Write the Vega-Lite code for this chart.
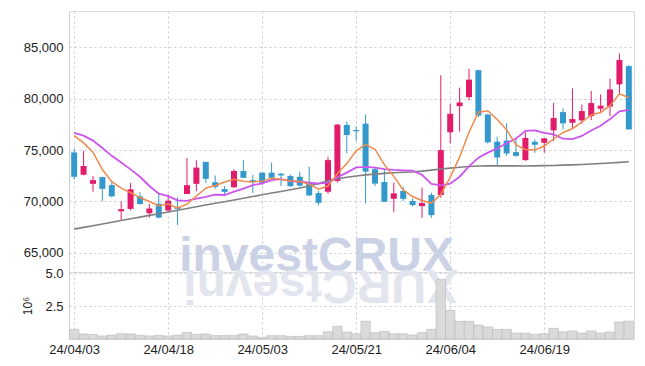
{
  "$schema": "https://vega.github.io/schema/vega-lite/v6.json",
  "background": "white",
  "padding": {"left": 21, "top": 10, "right": 9, "bottom": 0},
  "spacing": 0,
  "bounds": "flush",
  "config": {
    "view": {"stroke": "#dcdcdc"},
    "font": "Liberation Sans",
    "axis": {
      "labelFont": "Liberation Sans",
      "labelFontSize": 13,
      "labelColor": "#222",
      "gridColor": "#c6c9dc",
      "gridDash": [2, 3],
      "ticks": false,
      "domainColor": "#cccccc",
      "labelPadding": 6,
      "titleFont": "Liberation Sans",
      "titleFontWeight": "normal",
      "titleFontSize": 12,
      "titleColor": "#222"
    }
  },
  "data": {"values": [
    {"d":"24/04/03","o":74770,"h":75100,"l":72140,"c":72400,"v":730000,"m5":76400,"m10":76680,"m60":67300},
    {"d":"24/04/04","o":72600,"h":74930,"l":72530,"c":73450,"v":380000,"m5":75700,"m10":76410,"m60":67470},
    {"d":"24/04/05","o":71710,"h":72470,"l":70950,"c":72070,"v":350000,"m5":74800,"m10":75920,"m60":67630},
    {"d":"24/04/08","o":72370,"h":72400,"l":70000,"c":71220,"v":230000,"m5":73100,"m10":75200,"m60":67800},
    {"d":"24/04/09","o":71580,"h":71970,"l":70390,"c":70490,"v":300000,"m5":71926,"m10":74440,"m60":67970},
    {"d":"24/04/11","o":69040,"h":70000,"l":68090,"c":69240,"v":400000,"m5":71294,"m10":73780,"m60":68140},
    {"d":"24/04/12","o":69270,"h":71800,"l":69140,"c":71180,"v":380000,"m5":70840,"m10":73120,"m60":68300},
    {"d":"24/04/15","o":70490,"h":70890,"l":69670,"c":69740,"v":280000,"m5":70374,"m10":72400,"m60":68470},
    {"d":"24/04/16","o":68850,"h":69740,"l":68420,"c":69310,"v":230000,"m5":69992,"m10":71500,"m60":68640},
    {"d":"24/04/17","o":69770,"h":70820,"l":68350,"c":68420,"v":280000,"m5":69578,"m10":70752,"m60":68800},
    {"d":"24/04/18","o":69110,"h":70660,"l":69010,"c":70070,"v":230000,"m5":69744,"m10":70519,"m60":68970},
    {"d":"24/04/19","o":69440,"h":70390,"l":67700,"c":69270,"v":300000,"m5":69362,"m10":70101,"m60":69140},
    {"d":"24/04/22","o":70720,"h":74220,"l":70720,"c":71580,"v":500000,"m5":69730,"m10":70052,"m60":69300},
    {"d":"24/04/23","o":71710,"h":74010,"l":70990,"c":73290,"v":350000,"m5":70526,"m10":70259,"m60":69470},
    {"d":"24/04/24","o":73850,"h":73850,"l":71810,"c":72200,"v":380000,"m5":71282,"m10":70430,"m60":69640},
    {"d":"24/04/25","o":71870,"h":72530,"l":71220,"c":71410,"v":260000,"m5":71550,"m10":70647,"m60":69810},
    {"d":"24/04/26","o":71200,"h":71500,"l":70600,"c":70930,"v":260000,"m5":71882,"m10":70622,"m60":69970},
    {"d":"24/04/29","o":71380,"h":73130,"l":71320,"c":72960,"v":280000,"m5":72158,"m10":70944,"m60":70140},
    {"d":"24/04/30","o":72960,"h":74010,"l":72240,"c":72300,"v":380000,"m5":71960,"m10":71243,"m60":70310},
    {"d":"24/05/02","o":72070,"h":72570,"l":70820,"c":71870,"v":230000,"m5":71894,"m10":71588,"m60":70470},
    {"d":"24/05/03","o":72800,"h":72800,"l":71580,"c":71810,"v":130000,"m5":71974,"m10":71762,"m60":70640},
    {"d":"24/05/07","o":72800,"h":73780,"l":72240,"c":72300,"v":250000,"m5":72248,"m10":72065,"m60":70810},
    {"d":"24/05/08","o":72700,"h":72760,"l":71480,"c":72530,"v":250000,"m5":72162,"m10":72160,"m60":70970},
    {"d":"24/05/09","o":72470,"h":72630,"l":71410,"c":71480,"v":200000,"m5":71998,"m10":71979,"m60":71140},
    {"d":"24/05/10","o":72400,"h":72890,"l":71450,"c":71540,"v":200000,"m5":71932,"m10":71913,"m60":71310},
    {"d":"24/05/13","o":71830,"h":73370,"l":70520,"c":70580,"v":250000,"m5":71686,"m10":71830,"m60":71500},
    {"d":"24/05/14","o":70810,"h":71010,"l":69600,"c":69860,"v":250000,"m5":71198,"m10":71723,"m60":71750},
    {"d":"24/05/16","o":70940,"h":74340,"l":70750,"c":74020,"v":550000,"m5":71496,"m10":71829,"m60":72000},
    {"d":"24/05/17","o":71990,"h":77550,"l":71830,"c":77480,"v":960000,"m5":72696,"m10":72347,"m60":72200},
    {"d":"24/05/20","o":77450,"h":77780,"l":74670,"c":76470,"v":530000,"m5":73682,"m10":72807,"m60":72350},
    {"d":"24/05/21","o":76960,"h":77290,"l":75910,"c":76830,"v":400000,"m5":74932,"m10":73309,"m60":72480},
    {"d":"24/05/22","o":77580,"h":78460,"l":69800,"c":72900,"v":1340000,"m5":75540,"m10":73369,"m60":72580},
    {"d":"24/05/23","o":73130,"h":73360,"l":71500,"c":71730,"v":480000,"m5":75082,"m10":73289,"m60":72660},
    {"d":"24/05/24","o":71890,"h":73130,"l":69960,"c":69960,"v":580000,"m5":73578,"m10":73137,"m60":72730},
    {"d":"24/05/27","o":70250,"h":71830,"l":68950,"c":70780,"v":400000,"m5":72440,"m10":73061,"m60":72790},
    {"d":"24/05/28","o":71010,"h":71430,"l":70030,"c":70250,"v":400000,"m5":71124,"m10":73028,"m60":72840},
    {"d":"24/05/29","o":70030,"h":70300,"l":69500,"c":69640,"v":300000,"m5":70472,"m10":73006,"m60":72870},
    {"d":"24/05/30","o":69540,"h":71340,"l":68400,"c":69840,"v":480000,"m5":70094,"m10":72588,"m60":72950},
    {"d":"24/05/31","o":70620,"h":70850,"l":68400,"c":68660,"v":730000,"m5":69834,"m10":71706,"m60":73050},
    {"d":"24/06/03","o":70620,"h":82290,"l":70360,"c":75000,"v":4520000,"m5":70678,"m10":71559,"m60":73150},
    {"d":"24/06/04","o":76730,"h":79510,"l":75650,"c":78530,"v":2170000,"m5":72334,"m10":71729,"m60":73240},
    {"d":"24/06/05","o":79280,"h":81080,"l":76800,"c":79640,"v":1340000,"m5":74334,"m10":72403,"m60":73320},
    {"d":"24/06/07","o":80160,"h":82940,"l":79840,"c":81860,"v":1340000,"m5":76738,"m10":73416,"m60":73400},
    {"d":"24/06/10","o":82780,"h":82840,"l":78200,"c":78370,"v":1060000,"m5":78680,"m10":74257,"m60":73450},
    {"d":"24/06/11","o":78460,"h":78530,"l":75650,"c":75750,"v":910000,"m5":78830,"m10":74754,"m60":73460},
    {"d":"24/06/12","o":75820,"h":76310,"l":73530,"c":74280,"v":730000,"m5":77980,"m10":75157,"m60":73460},
    {"d":"24/06/13","o":75920,"h":77610,"l":74440,"c":74670,"v":730000,"m5":76986,"m10":75660,"m60":73460},
    {"d":"24/06/14","o":74800,"h":76200,"l":74340,"c":74440,"v":450000,"m5":75502,"m10":76120,"m60":73460},
    {"d":"24/06/17","o":74020,"h":76730,"l":73950,"c":76180,"v":450000,"m5":75064,"m10":76872,"m60":73450},
    {"d":"24/06/18","o":75810,"h":76040,"l":74740,"c":75520,"v":350000,"m5":75018,"m10":76924,"m60":73460},
    {"d":"24/06/19","o":75710,"h":76200,"l":74740,"c":76140,"v":400000,"m5":75390,"m10":76685,"m60":73480},
    {"d":"24/06/20","o":76920,"h":79610,"l":75880,"c":78120,"v":810000,"m5":76080,"m10":76533,"m60":73500},
    {"d":"24/06/21","o":78700,"h":79060,"l":77010,"c":77600,"v":550000,"m5":76712,"m10":76107,"m60":73530},
    {"d":"24/06/24","o":77660,"h":81010,"l":77110,"c":78020,"v":610000,"m5":77080,"m10":76072,"m60":73560},
    {"d":"24/06/25","o":77890,"h":79450,"l":77560,"c":78800,"v":450000,"m5":77736,"m10":76377,"m60":73600},
    {"d":"24/06/26","o":78310,"h":80750,"l":77920,"c":79580,"v":610000,"m5":78424,"m10":76907,"m60":73640},
    {"d":"24/06/27","o":79030,"h":80420,"l":78730,"c":79320,"v":450000,"m5":78664,"m10":77372,"m60":73690},
    {"d":"24/06/28","o":79250,"h":81950,"l":78310,"c":80910,"v":530000,"m5":79326,"m10":78019,"m60":73740},
    {"d":"24/07/01","o":81400,"h":84420,"l":80420,"c":83770,"v":1290000,"m5":80476,"m10":78778,"m60":73800},
    {"d":"24/07/02","o":83180,"h":83280,"l":77010,"c":77010,"v":1360000,"m5":80118,"m10":78927,"m60":73860}
  ]},
  "vconcat": [
    {
      "width": 565,
      "height": 261,
      "encoding": {
        "x": {
          "field": "d", "type": "ordinal",
          "scale": {"type": "point", "padding": 0.55, "domain": ["24/04/03","24/04/04","24/04/05","24/04/08","24/04/09","24/04/11","24/04/12","24/04/15","24/04/16","24/04/17","24/04/18","24/04/19","24/04/22","24/04/23","24/04/24","24/04/25","24/04/26","24/04/29","24/04/30","24/05/02","24/05/03","24/05/07","24/05/08","24/05/09","24/05/10","24/05/13","24/05/14","24/05/16","24/05/17","24/05/20","24/05/21","24/05/22","24/05/23","24/05/24","24/05/27","24/05/28","24/05/29","24/05/30","24/05/31","24/06/03","24/06/04","24/06/05","24/06/07","24/06/10","24/06/11","24/06/12","24/06/13","24/06/14","24/06/17","24/06/18","24/06/19","24/06/20","24/06/21","24/06/24","24/06/25","24/06/26","24/06/27","24/06/28","24/07/01","24/07/02"]},
          "axis": {"values": ["24/04/03","24/04/18","24/05/03","24/05/21","24/06/04","24/06/19"], "labels": false, "domain": true, "domainColor": "#9a9a9a", "grid": true, "title": null}
        }
      },
      "layer": [
        {
          "transform": [{"filter": "datum.d == '24/05/14'"}],
          "mark": {"type": "text", "text": "investCRUX", "fontSize": 48, "fontWeight": "bold", "font": "Liberation Sans", "color": "#ccd2e6", "align": "center", "baseline": "alphabetic", "dx": -2, "dy": -1},
          "encoding": {"y": {"datum": 63120, "type": "quantitative", "title": null}}
        },
        {
          "mark": {"type": "rule", "strokeWidth": 1},
          "encoding": {
            "y": {"field": "l", "type": "quantitative", "title": null,
              "scale": {"domain": [63120, 88550], "nice": false, "zero": false},
              "axis": {"values": [65000, 70000, 75000, 80000, 85000], "format": ",d", "grid": true, "title": null}},
            "y2": {"field": "h"},
            "color": {"condition": {"test": "datum.c < datum.o", "value": "#3399cc"}, "value": "#e31b6b"}
          }
        },
        {
          "mark": {"type": "bar", "size": 6},
          "encoding": {
            "y": {"field": "o", "type": "quantitative", "title": null},
            "y2": {"field": "c"},
            "color": {"condition": {"test": "datum.c < datum.o", "value": "#3399cc"}, "value": "#e31b6b"}
          }
        },
        {
          "mark": {"type": "line", "color": "#808080", "strokeWidth": 1.6},
          "encoding": {"y": {"field": "m60", "type": "quantitative", "title": null}}
        },
        {
          "mark": {"type": "line", "color": "#cc55ee", "strokeWidth": 1.8},
          "encoding": {"y": {"field": "m10", "type": "quantitative", "title": null}}
        },
        {
          "mark": {"type": "line", "color": "#f08a4b", "strokeWidth": 1.5},
          "encoding": {"y": {"field": "m5", "type": "quantitative", "title": null}}
        }
      ]
    },
    {
      "width": 565,
      "height": 67,
      "encoding": {
        "x": {
          "field": "d", "type": "ordinal",
          "scale": {"type": "point", "padding": 0.55, "domain": ["24/04/03","24/04/04","24/04/05","24/04/08","24/04/09","24/04/11","24/04/12","24/04/15","24/04/16","24/04/17","24/04/18","24/04/19","24/04/22","24/04/23","24/04/24","24/04/25","24/04/26","24/04/29","24/04/30","24/05/02","24/05/03","24/05/07","24/05/08","24/05/09","24/05/10","24/05/13","24/05/14","24/05/16","24/05/17","24/05/20","24/05/21","24/05/22","24/05/23","24/05/24","24/05/27","24/05/28","24/05/29","24/05/30","24/05/31","24/06/03","24/06/04","24/06/05","24/06/07","24/06/10","24/06/11","24/06/12","24/06/13","24/06/14","24/06/17","24/06/18","24/06/19","24/06/20","24/06/21","24/06/24","24/06/25","24/06/26","24/06/27","24/06/28","24/07/01","24/07/02"]},
          "axis": {"values": ["24/04/03","24/04/18","24/05/03","24/05/21","24/06/04","24/06/19"], "labelAngle": 0, "labelPadding": 4, "grid": true, "domain": false, "title": null}
        }
      },
      "layer": [
        {
          "transform": [{"filter": "datum.d == '24/05/14'"}],
          "mark": {"type": "text", "text": "XURCtsevni", "angle": 180, "fontSize": 48, "fontWeight": "bold", "font": "Liberation Sans", "color": "#e3e5ee", "align": "center", "baseline": "alphabetic", "dx": -2, "dy": 2},
          "encoding": {"y": {"datum": 5080000, "type": "quantitative", "title": null}}
        },
        {
          "mark": {"type": "bar", "size": 9.4, "fill": "#dadada", "stroke": "#b8b8b8", "strokeWidth": 0.6},
          "encoding": {
            "y": {"field": "v", "type": "quantitative",
              "scale": {"domain": [0, 5080000], "nice": false},
              "axis": {"values": [2500000, 5000000], "labelExpr": "format(datum.value/1000000, '.1f')", "grid": true, "title": "10⁶", "titlePadding": 10}}
          }
        }
      ]
    }
  ]
}
